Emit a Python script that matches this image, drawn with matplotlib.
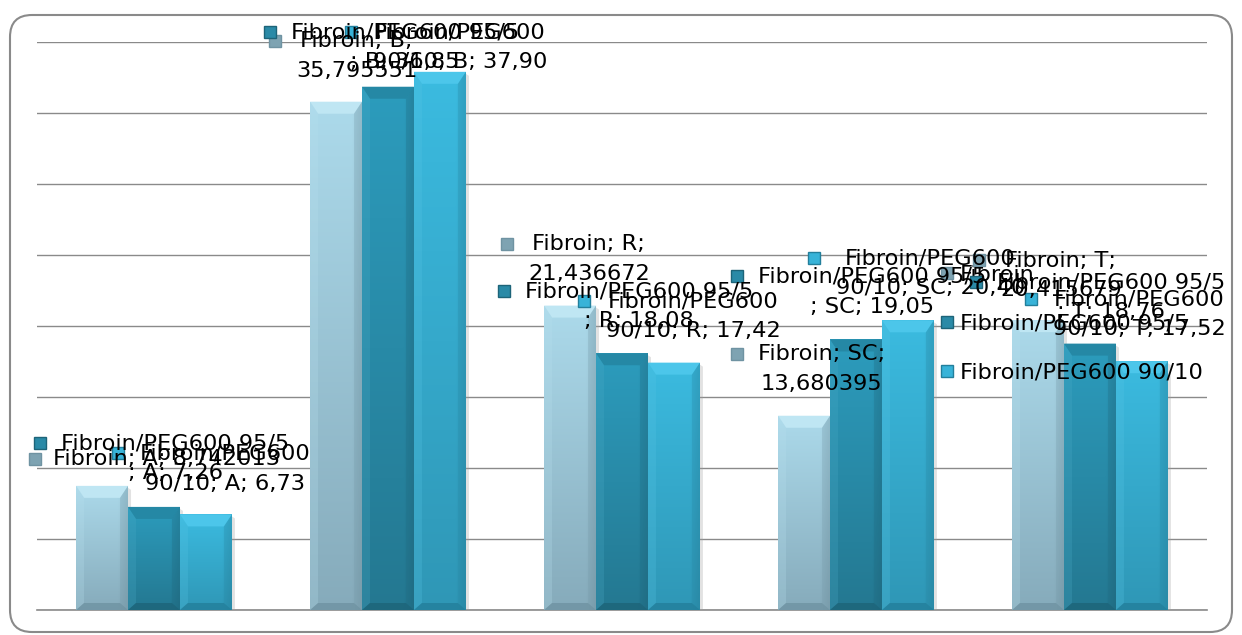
import numpy as np
import matplotlib
matplotlib.use("Agg")
import matplotlib.pyplot as plt
from matplotlib.patches import FancyBboxPatch, Polygon
from matplotlib.lines import Line2D
from matplotlib.transforms import offset_copy
import matplotlib.colors as mcolors

# ---- data -------------------------------------------------------------
categories = ["A", "B", "R", "SC", "T"]
series_names = ["Fibroin", "Fibroin/PEG600 95/5", "Fibroin/PEG600 90/10"]
fibroin = [8.742013, 35.795551, 21.436672, 13.680395, 20.415679]
peg600_95_5 = [7.26, 36.85, 18.08, 19.05, 18.76]
peg600_90_10 = [6.73, 37.90, 17.42, 20.40, 17.52]
decimals = [6, 2, 2]

# ---- styling ----------------------------------------------------------
top_colors = ["#acdaeb", "#2c9cbd", "#3bbbe0"]
bottom_colors = ["#86abbb", "#247891", "#2f97b6"]
cap_colors = ["#bfe6f3", "#2588a5", "#4cc6ea"]
edge_colors = ["#6f93a2", "#1d6479", "#237f9b"]
marker_colors = ["#7ea3b2", "#2a8aa7", "#38b3d8"]

# label placement: offset (pixels) of the legend key from the bar top centre
label_offsets = [
    [(-74, 27), (-68, 61), (-70, 62), (-74, 62), (-66, 60)],
    [(-121, 64), (-125, 55), (-125, 62), (-126, 63), (-121, 62)],
    [(-94, 61), (-95, 40), (-96, 62), (-100, 62), (-117, 62)],
]

W, H, DPI = 1242, 635, 100
FS = 16.2
plt.rcParams["font.family"] = ["DejaVu Sans"]

fig = plt.figure(figsize=(W / DPI, H / DPI), dpi=DPI)
fig.patch.set_facecolor("white")
ax_left, ax_right, ax_top, ax_bot = 37, 1207, 42, 610
ax = fig.add_axes([ax_left / W, (H - ax_bot) / H,
                   (ax_right - ax_left) / W, (ax_bot - ax_top) / H])

ymax = 40
ax.set_xlim(-0.5, len(categories) - 0.5)
ax.set_ylim(0, ymax)
ax.set_yticks(np.arange(0, ymax + 1, 5))
ax.set_xticks([])
ax.tick_params(left=False, labelleft=False)
ax.yaxis.grid(True, color="#8a8a8a", lw=1.0)
ax.set_axisbelow(True)
for s in ax.spines.values():
    s.set_visible(False)
ax.axhline(0, color="#8a8a8a", lw=1.2, zorder=1, clip_on=False)

px_x = (ax_right - ax_left) / len(categories)   # pixels per category unit
px_y = (ax_bot - ax_top) / ymax                 # pixels per value unit

bar_w = 0.222
x = np.arange(len(categories))
all_values = [fibroin, peg600_95_5, peg600_90_10]


def mix(c1, c2, t):
    a = np.array(mcolors.to_rgb(c1))
    b = np.array(mcolors.to_rgb(c2))
    return tuple(a * (1 - t) + b * t)


def shade_bar(patch, top_c, bot_c, cap_c, edge_c):
    x0, w, h = patch.get_x(), patch.get_width(), patch.get_height()
    x1 = x0 + w
    n, m = 128, 32
    ty = np.linspace(0, 1, n)[:, None]          # 0 bottom, 1 top
    tx = np.linspace(0, 1, m)[None, :]
    top = np.array(mcolors.to_rgb(top_c))
    bot = np.array(mcolors.to_rgb(bot_c))
    img = bot[None, None, :] * (1 - ty[..., None]) + top[None, None, :] * ty[..., None]
    dark = 1 - 0.08 * np.clip((tx - 0.82) / 0.18, 0, 1)
    img = img * dark[..., None]
    im = ax.imshow(img, extent=(x0, x1, 0, h), origin="lower", aspect="auto",
                   interpolation="bilinear", zorder=2)
    im.set_clip_path(patch)

    bx = 8 / px_x
    by = min(12 / px_y, h * 0.4)
    bb = 7 / px_y
    # top bevel
    ax.add_patch(Polygon([(x0, h), (x1, h), (x1 - bx, h - by), (x0 + bx, h - by)],
                         closed=True, fc=cap_c, ec="none", zorder=3))
    # right bevel
    ax.add_patch(Polygon([(x1, h), (x1, 0), (x1 - bx, bb), (x1 - bx, h - by)],
                         closed=True, fc=mix(bot_c, edge_c, 0.6), ec="none",
                         alpha=0.3, zorder=3))
    # left bevel
    ax.add_patch(Polygon([(x0, h), (x0, 0), (x0 + bx, bb), (x0 + bx, h - by)],
                         closed=True, fc=mix(top_c, "white", 0.15), ec="none",
                         alpha=0.25, zorder=3))
    # bottom bevel
    ax.add_patch(Polygon([(x0, 0), (x1, 0), (x1 - bx, bb), (x0 + bx, bb)],
                         closed=True, fc=edge_c, ec="none", alpha=0.8, zorder=3))
    # soft shadow on the right
    ax.add_patch(Polygon([(x1, h - 2 / px_y), (x1 + 3 / px_x, h - 4 / px_y),
                          (x1 + 3 / px_x, 0), (x1, 0)],
                         closed=True, fc="#a0a0a0", ec="none", alpha=0.3, zorder=1.5))


def fmt(v, nd):
    return f"{v:.{nd}f}".replace(".", ",")


def label_text(si, ci):
    name = series_names[si]
    cat = categories[ci]
    val = fmt(all_values[si][ci], decimals[si])
    if si == 0:
        if ci == 0:
            return f"{name}; {cat}; {val}"
        return f"{name}; {cat};\n{val}"
    if si == 1:
        return f"{name}\n; {cat}; {val}"
    head, tail = name.split(" ")
    return f"{head}\n{tail}; {cat}; {val}"


for si, vals in enumerate(all_values):
    offs = (si - 1) * bar_w
    bars = ax.bar(x + offs, vals, width=bar_w, color=top_colors[si],
                  edgecolor="none", zorder=2, label=series_names[si])
    for ci, p in enumerate(bars):
        shade_bar(p, top_colors[si], bottom_colors[si], cap_colors[si], edge_colors[si])

# data labels with legend keys
for si, vals in enumerate(all_values):
    offs = (si - 1) * bar_w
    for ci, v in enumerate(vals):
        dx, dy = label_offsets[si][ci]
        xc = x[ci] + offs
        mt = offset_copy(ax.transData, fig=fig, x=dx + 6.5, y=dy, units="dots")
        ax.plot([xc], [v], marker="s", ms=9.0, mfc=marker_colors[si],
                mec=edge_colors[si], mew=1.0, transform=mt, zorder=6,
                clip_on=False)
        txt = label_text(si, ci)
        gap = 25 if "\n" not in txt else 28
        tt = offset_copy(ax.transData, fig=fig, x=dx + gap, y=dy + 9.5, units="dots")
        ax.text(xc, v, txt, transform=tt, ha="left", va="top",
                multialignment="center", fontsize=FS, linespacing=1.6,
                color="black", zorder=7, clip_on=False)

# legend
handles = [Line2D([], [], ls="none", marker="s", ms=9.0, mfc=marker_colors[i],
                  mec=edge_colors[i], mew=1.0) for i in range(3)]
ax.legend(handles, series_names, loc="upper left",
          bbox_to_anchor=(940 / W, 1 - 265 / H), bbox_transform=fig.transFigure,
          frameon=False, fontsize=FS, handlelength=0.6, handletextpad=0.3,
          labelspacing=1.28, borderpad=0, borderaxespad=0)

# rounded chart frame
frame = FancyBboxPatch((10 / DPI, 3 / DPI), (1232 - 10) / DPI, (632 - 15) / DPI,
                       boxstyle="round,pad=0,rounding_size=0.22",
                       transform=fig.dpi_scale_trans, fc="none", ec="#8a8a8a",
                       lw=1.5, zorder=0)
fig.patches.append(frame)

fig.savefig("out.png", dpi=DPI, facecolor="white")
